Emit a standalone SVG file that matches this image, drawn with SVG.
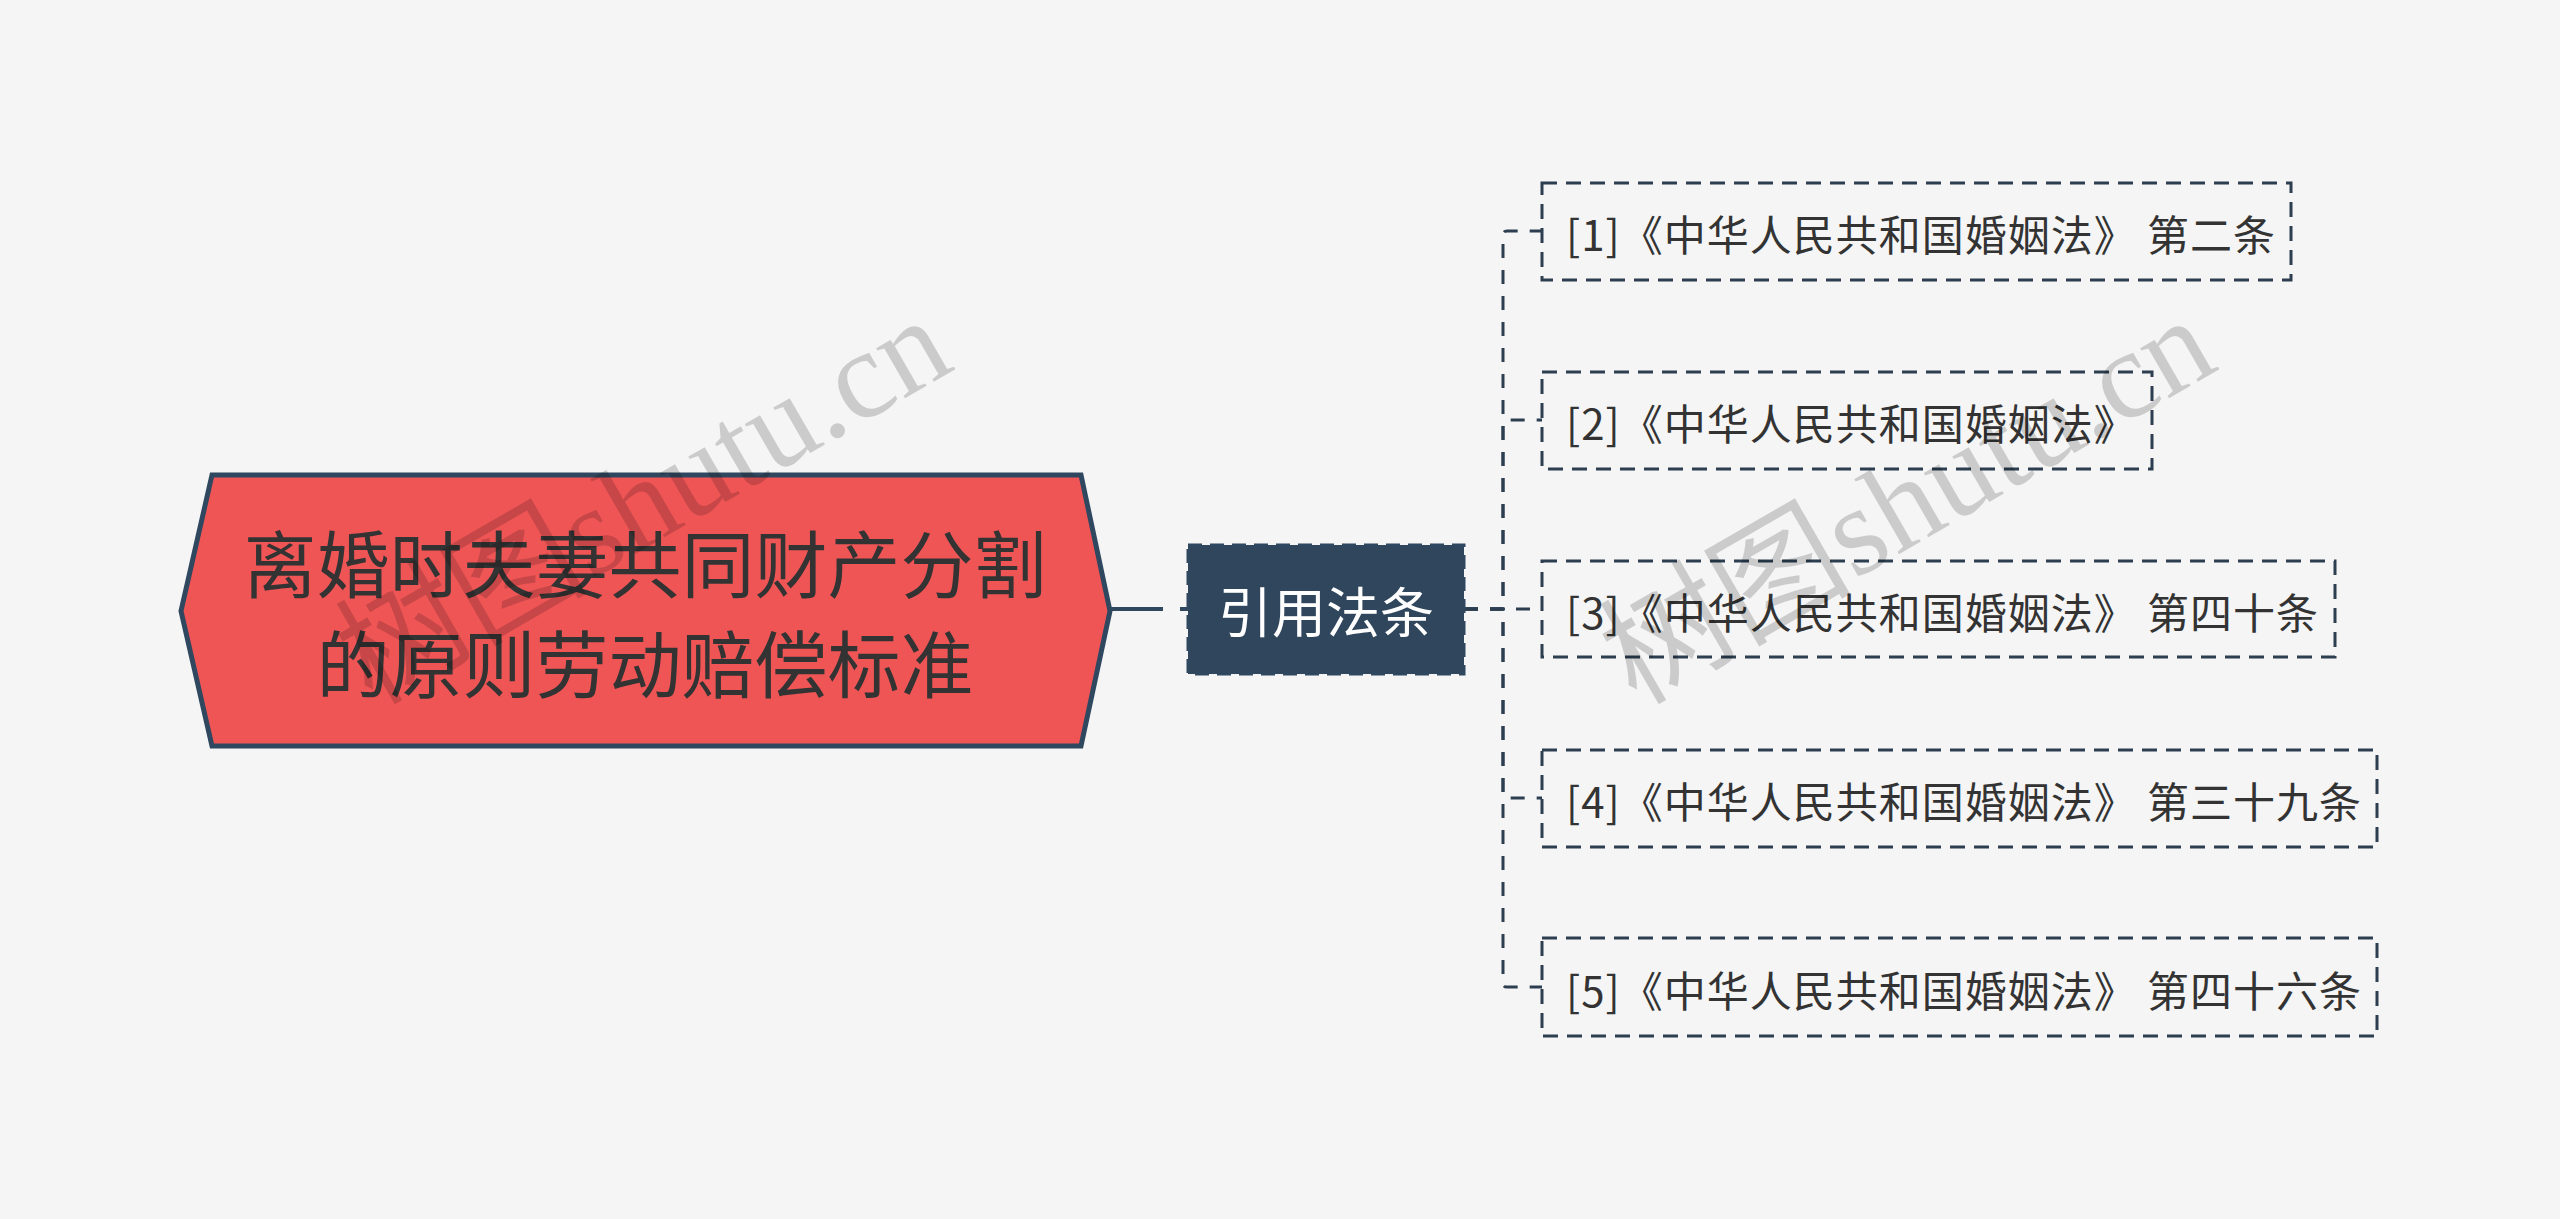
<svg xmlns="http://www.w3.org/2000/svg" width="2560" height="1219" viewBox="0 0 2560 1219">
<style>
.bg{fill:#f5f5f5}
.root{fill:#f05556;stroke:#2f4860;stroke-width:5}
.roottext{font-family:"Noto Sans CJK SC","Noto Sans",sans-serif;font-size:73px;fill:#333333;text-anchor:middle;dominant-baseline:central}
.mid{fill:#30465d;stroke:#2f4860;stroke-width:3;stroke-dasharray:14 8}
.midtext{font-family:"Noto Sans CJK SC","Noto Sans",sans-serif;font-size:54px;fill:#ffffff;text-anchor:middle;dominant-baseline:central}
.leaf{fill:none;stroke:#2c3e50;stroke-width:3;stroke-dasharray:15 9}
.leaftext{font-family:"Noto Sans CJK SC","Noto Sans",sans-serif;font-size:42px;fill:#333333;dominant-baseline:central;letter-spacing:1px}
.conn{fill:none;stroke:#2c3e50;stroke-width:3;stroke-dasharray:14 12}
.wm{font-family:"Liberation Serif","Noto Sans CJK SC",serif;font-size:126px;fill:#000000;fill-opacity:0.17}
</style>
<rect class="bg" x="0" y="0" width="2560" height="1219"/>
<g id="connectors">
<path d="M1110,609 H1163" fill="none" stroke="#2f4860" stroke-width="4"/>
<path d="M1180,609 H1188" fill="none" stroke="#2f4860" stroke-width="4"/>
<path class="conn" d="M1464,609 H1503 V235 Q1503,231 1507,231 H1542"/>
<path class="conn" d="M1464,609 H1503 V424 Q1503,420 1507,420 H1542"/>
<path class="conn" d="M1464,609 H1542"/>
<path class="conn" d="M1464,609 H1503 V794 Q1503,798 1507,798 H1542"/>
<path class="conn" d="M1464,609 H1503 V983 Q1503,987 1507,987 H1542"/>
</g>
<g id="node-root">
<polygon class="root" points="181,611 212,475 1081,475 1110,611 1081,746 212,746"/>
<text class="roottext" x="645" y="560">离婚时夫妻共同财产分割</text>
<text class="roottext" x="645" y="660">的原则劳动赔偿标准</text>
</g>
<g id="node-mid">
<rect class="mid" x="1188" y="545" width="276" height="129"/>
<text class="midtext" x="1326" y="609">引用法条</text>
</g>
<g id="node-1">
<rect class="leaf" x="1542" y="183" width="749" height="97"/>
<text class="leaftext" x="1566" y="232">[1]《中华人民共和国婚姻法》 第二条</text>
</g>
<g id="node-2">
<rect class="leaf" x="1542" y="372" width="610" height="97"/>
<text class="leaftext" x="1566" y="421">[2]《中华人民共和国婚姻法》</text>
</g>
<g id="node-3">
<rect class="leaf" x="1542" y="561" width="793" height="96"/>
<text class="leaftext" x="1566" y="610">[3]《中华人民共和国婚姻法》 第四十条</text>
</g>
<g id="node-4">
<rect class="leaf" x="1542" y="750" width="835" height="97"/>
<text class="leaftext" x="1566" y="799">[4]《中华人民共和国婚姻法》 第三十九条</text>
</g>
<g id="node-5">
<rect class="leaf" x="1542" y="938" width="835" height="98"/>
<text class="leaftext" x="1566" y="988">[5]《中华人民共和国婚姻法》 第四十六条</text>
</g>
<g id="watermarks">
<text class="wm" transform="translate(372,706) rotate(-30)">树图shutu.cn</text>
<text class="wm" transform="translate(1636,706) rotate(-30)">树图shutu.cn</text>
</g>
</svg>
